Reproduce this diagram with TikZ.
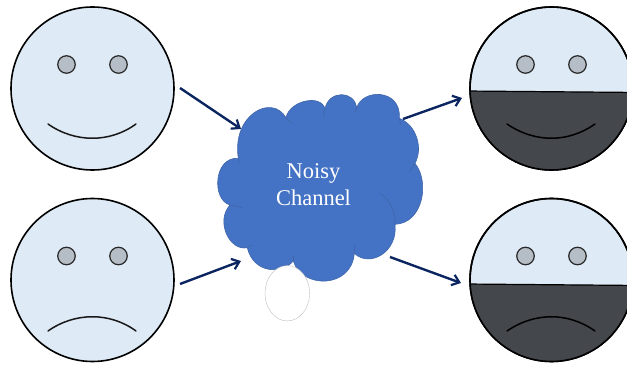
\documentclass[tikz,border=0pt]{standalone}
\usepackage{fontspec}
\setmainfont{Liberation Serif}
\usetikzlibrary{arrows.meta}
\definecolor{facefill}{HTML}{DEEAF6}
\definecolor{eyefill}{HTML}{B5BEC6}
\definecolor{darkfill}{HTML}{44484C}
\definecolor{cloudfill}{HTML}{4472C4}
\definecolor{cloudline}{HTML}{3F66A8}
\definecolor{arrowcol}{HTML}{0B2560}
\tikzset{
  face/.style={circle,draw=black,line width=1.6pt,fill=facefill,minimum size=163pt,inner sep=0pt},
  eye/.style={circle,draw=black!85,line width=1.2pt,fill=eyefill,minimum size=17.5pt,inner sep=0pt},
  mouth/.style={draw=black!90,line width=1.5pt,line cap=round},
  flow/.style={draw=arrowcol,line width=2.4pt,-{Straight Barb[length=7pt,width=11pt,line width=2.2pt]}},
  crease/.style={draw=cloudline,line width=0.6pt},
  chan/.style={text=white,font=\fontsize{22.5pt}{27pt}\selectfont,align=center,inner sep=0pt}
}
\begin{document}
\begin{tikzpicture}[x=1pt,y=-1pt]
\useasboundingbox (0,0) rectangle (627,366);
\clip (0,0) rectangle (627,366);
% left faces
\node[face] (f1) at (92.5,88.5) {};
\node[face] (f2) at (92.5,280) {};
\node[eye] (e1a) at (66.5,64.5) {};
\node[eye] (e1b) at (118.5,64.5) {};
\node[eye] (e2a) at (66.5,256) {};
\node[eye] (e2b) at (118.5,256) {};
\draw[mouth] (48,124) .. controls (75,143) and (110,143) .. (136,124);
\draw[mouth] (48,331) .. controls (75,312) and (110,312) .. (136,331);
% right faces
\node[face] (f3) at (551.5,88.5) {};
\node[face] (f4) at (551.5,280) {};
\begin{scope}
\clip (551.5,88.5) circle (81.5);
\fill[darkfill] (465,91) -- (640,92.5) -- (640,180) -- (465,180) -- cycle;
\draw[black,line width=1.2pt] (465,91) -- (640,92.5);
\end{scope}
\begin{scope}
\clip (551.5,280) circle (81.5);
\fill[darkfill] (465,284) -- (640,285.5) -- (640,370) -- (465,370) -- cycle;
\draw[black,line width=1.2pt] (465,284) -- (640,285.5);
\end{scope}
\draw[black,line width=1.6pt] (551.5,88.5) circle (81.5);
\draw[black,line width=1.6pt] (551.5,280) circle (81.5);
\node[eye] (e3a) at (525.5,64.5) {};
\node[eye] (e3b) at (577.5,64.5) {};
\node[eye] (e4a) at (525.5,256) {};
\node[eye] (e4b) at (577.5,256) {};
\draw[mouth,draw=black] (507,124) .. controls (535,143) and (568,143) .. (595,124);
\draw[mouth,draw=black] (507,331) .. controls (535,312) and (568,312) .. (595,331);
% white bubble
\begin{scope}[x=0.3333pt,y=-0.3333pt,shift={(630,255)}]
% cloud
\draw[draw=cloudline,line width=0.6pt,fill=cloudfill]
 (228,98) .. controls (240,45) and (335,27) .. (345,72)
 .. controls (355,15) and (435,15) .. (440,70)
 .. controls (455,10) and (575,10) .. (568,100)
 .. controls (620,120) and (640,190) .. (615,235)
 .. controls (660,290) and (640,415) .. (555,418)
 .. controls (565,500) and (480,550) .. (433,505)
 .. controls (425,612) and (275,612) .. (250,528)
 .. controls (215,570) and (130,565) .. (112,488)
 .. controls (60,500) and (15,410) .. (60,360)
 .. controls (5,345) and (10,215) .. (85,220)
 .. controls (65,90) and (185,25) .. (228,98) -- cycle;
\draw[crease] (228,98) -- (245,115);
\draw[crease] (345,72) -- (340,95);
\draw[crease] (440,70) -- (435,82);
\draw[crease] (568,100) -- (572,118);
\draw[crease] (615,235) -- (598,262);
\draw[crease] (510,325) .. controls (540,345) and (558,380) .. (555,418);
\draw[crease] (433,505) -- (435,475);
\draw[crease] (250,528) -- (250,510);
\draw[crease] (112,488) -- (125,480);
\draw[crease] (60,360) -- (97,368);
\draw[crease] (85,220) -- (88,235);
\draw[draw=black!25,line width=0.4pt,fill=white] (232,625) ellipse [x radius=67,y radius=83];
\end{scope}
\node[chan] (cloudlabel) at (313.5,185) {Noisy\\Channel};
% connectors
\coordinate (a1s) at (180,88);
\coordinate (a1e) at (241,129);
\coordinate (a2s) at (180,284);
\coordinate (a2e) at (241,261);
\coordinate (a3s) at (403,119);
\coordinate (a3e) at (462,98);
\coordinate (a4s) at (390,257);
\coordinate (a4e) at (461,283);
\draw[flow] (a1s) -- (a1e);
\draw[flow] (a2s) -- (a2e);
\draw[flow] (a3s) -- (a3e);
\draw[flow] (a4s) -- (a4e);
\end{tikzpicture}
\end{document}
